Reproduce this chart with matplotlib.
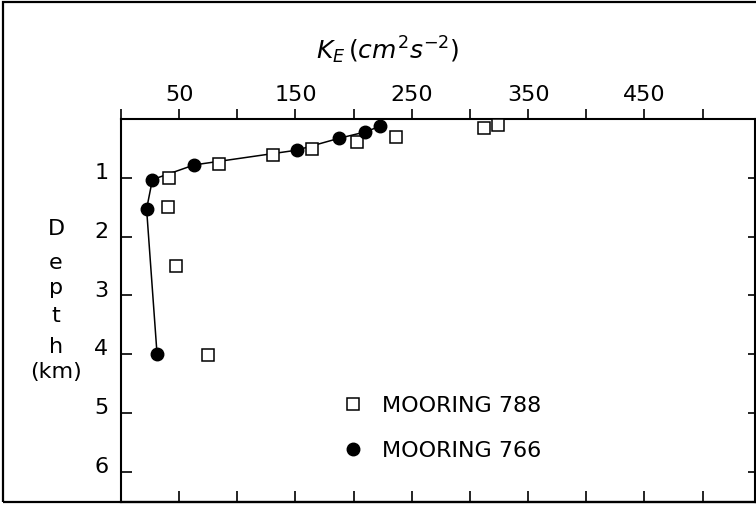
import matplotlib.pyplot as plt
from matplotlib.patches import Rectangle
from matplotlib.transforms import ScaledTranslation

# mooring 766 (filled circles, joined by a line)
ke_766 = [223, 210, 187, 151, 63, 27, 22, 31]
depth_766 = [0.12, 0.22, 0.33, 0.53, 0.78, 1.03, 1.53, 4.0]

# mooring 788 (open squares)
ke_788 = [324, 312, 236, 203, 164, 131, 84, 41, 40, 47, 75]
depth_788 = [0.10, 0.15, 0.30, 0.39, 0.51, 0.61, 0.76, 1.01, 1.50, 2.50, 4.01]

x_ticks = [0, 50, 100, 150, 200, 250, 300, 350, 400, 450, 500]
x_labels = ["", "50", "", "150", "", "250", "", "350", "", "450", ""]
y_ticks = [1, 2, 3, 4, 5, 6]

W, H = 756, 507
fig = plt.figure(figsize=(W / 100, H / 100), dpi=100)

# outer frame around the whole figure
fig.patches.append(Rectangle((3 / W, 1 - 502 / H), 1, 500 / H,
                             transform=fig.transFigure, fill=False,
                             lw=1.6, ec="black"))

ax = fig.add_axes([121 / W, 1 - 502 / H, (755 - 121) / W, (502 - 119) / H])
ax.set_xlim(0, 545)
ax.set_ylim(6.51, 0)
for sp in ax.spines.values():
    sp.set_linewidth(1.5)

ax.plot(ke_766, depth_766, "-", color="black", lw=1.1, zorder=2)
ax.plot(ke_788, depth_788, "s", ms=8.5, mfc="white", mec="black", mew=1.1,
        ls="none", label="MOORING 788", zorder=3)
ax.plot(ke_766, depth_766, "o", ms=9, color="black", ls="none",
        label="MOORING 766", zorder=4)

# top axis: outward ticks with labels
ax.xaxis.tick_top()
ax.set_xticks(x_ticks)
ax.set_xticklabels(x_labels, fontsize=16)
ax.tick_params(axis="x", direction="out", length=7, width=1.2, pad=3)

# bottom: inward ticks, no labels
bot = ax.secondary_xaxis("bottom")
bot.set_xticks(x_ticks[1:])
bot.set_xticklabels([])
bot.tick_params(direction="in", length=8, width=1.2)
bot.spines["bottom"].set_linewidth(1.5)

# left: inward ticks with labels
ax.set_yticks(y_ticks)
ax.set_yticklabels([str(v) for v in y_ticks], fontsize=16)
ax.tick_params(axis="y", direction="in", length=8, width=1.2, pad=9)
for lab in ax.get_yticklabels():
    lab.set_transform(lab.get_transform() +
                      ScaledTranslation(0, 5 / 72, fig.dpi_scale_trans))

# right: short inward ticks
rgt = ax.secondary_yaxis("right")
rgt.set_yticks(y_ticks)
rgt.set_yticklabels([])
rgt.tick_params(direction="in", length=5, width=1.2)

# axis titles
fig.text(388 / W, 1 - 59 / H, r"$K_E\,(cm^2s^{-2})$", fontsize=18,
         ha="center", va="baseline")
for letter, py in zip(["D", "e", "p", "t", "h", "(km)"],
                      [229, 263, 288, 316, 347, 372]):
    fig.text(56 / W, 1 - py / H, letter, fontsize=16, ha="center", va="center")

ax.legend(loc="upper left", bbox_to_anchor=(342 / W, 1 - 396 / H),
          bbox_transform=fig.transFigure, frameon=False, fontsize=16,
          handlelength=1.0, handletextpad=0.8, labelspacing=1.12,
          borderpad=0, borderaxespad=0)

fig.savefig("out.png", dpi=100)
